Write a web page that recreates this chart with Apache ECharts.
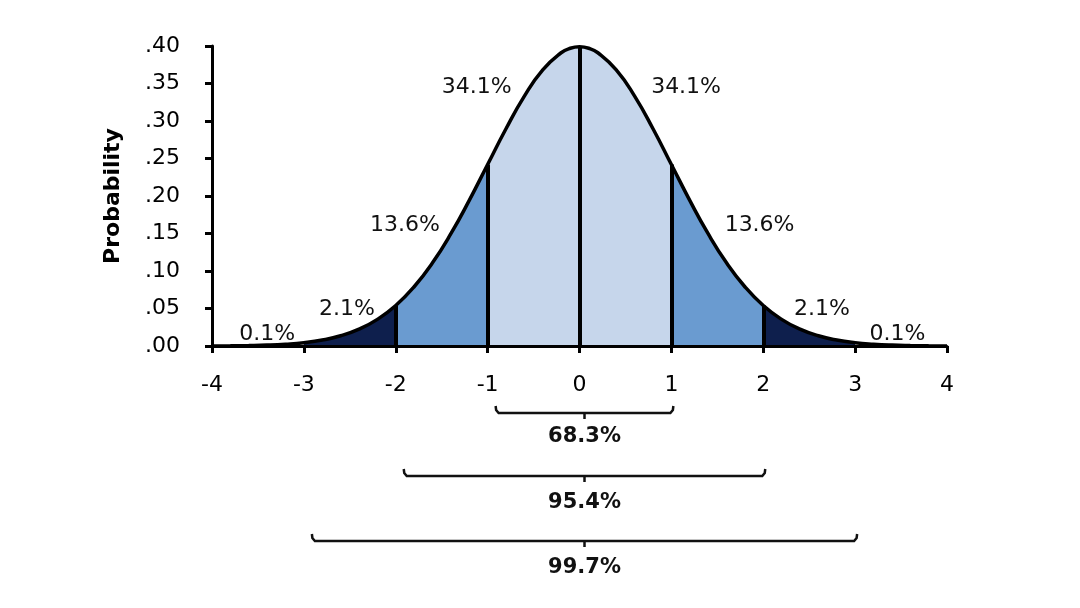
<!DOCTYPE html>
<html>
<head>
<meta charset="utf-8">
<script src="https://cdn.jsdelivr.net/npm/echarts@6/dist/echarts.min.js"></script>
<style>
    html, body { margin: 0; background: #fff; }
    #chart { width: 1080px; height: 608px; }
</style>
</head>
<body>
<div id="chart"></div>
<script>
    // curve
    var xValues = [-4, -3.8, -3.6, -3.4, -3.2, -3, -2.8, -2.6, -2.4, -2.2, -2, -1.8, -1.6, -1.4, -1.2, -1, -0.8, -0.6, -0.4, -0.2, -0.1, 0,
        0.1, 0.2, 0.4, 0.6, 0.8, 1, 1.2, 1.4, 1.6, 1.8, 2, 2.2, 2.4, 2.6, 2.8, 3, 3.2, 3.4, 3.6, 3.8, 4];
    var density = [0.0001, 0.0003, 0.0006, 0.0012, 0.0024, 0.0044, 0.0079, 0.0136, 0.0224, 0.0355, 0.054, 0.079, 0.1109, 0.1497, 0.1942, 0.242, 0.2897, 0.3332, 0.3683, 0.391, 0.397, 0.3989,
        0.397, 0.391, 0.3683, 0.3332, 0.2897, 0.242, 0.1942, 0.1497, 0.1109, 0.079, 0.054, 0.0355, 0.0224, 0.0136, 0.0079, 0.0044, 0.0024, 0.0012, 0.0006, 0.0003, 0.0001];
    var dividers = [-2, -1, 0, 1, 2];
    var areaLabels = ['0.1%', '2.1%', '13.6%', '34.1%', '34.1%', '13.6%', '2.1%', '0.1%'];
    var bracketFrom = [-1, -2, -3];
    var bracketTo = [1, 2, 3];
    var bracketLabels = ['68.3%', '95.4%', '99.7%'];

    var FONT = '"DejaVu Sans", Verdana, sans-serif';

    function pointsBetween(a, b) {
        var out = [];
        for (var i = 0; i < xValues.length; i++) {
            if (xValues[i] >= a && xValues[i] <= b) out.push([xValues[i], density[i]]);
        }
        return out;
    }
    function densityAt(x) {
        return density[xValues.indexOf(x)];
    }

    var curve = xValues.map(function (x, i) { return [x, density[i]]; });

    // shaded bands
    var bands = [
        { range: [-3, -2], color: '#0e1f4d' },
        { range: [-2, -1], color: '#6a9bd0' },
        { range: [-1, 1], color: '#c6d6eb' },
        { range: [1, 2], color: '#6a9bd0' },
        { range: [2, 3], color: '#0e1f4d' }
    ];
    var bandSeries = bands.map(function (b) {
        return {
            type: 'line',
            data: pointsBetween(b.range[0], b.range[1]),
            smooth: true,
            symbol: 'none',
            lineStyle: { width: 0 },
            areaStyle: { color: b.color, opacity: 1 },
            z: 1,
            silent: true
        };
    });

    // where the percentage texts sit
    var labelSpots = [[-3.4, 0.016], [-2.53, 0.049], [-1.9, 0.161], [-1.12, 0.345], [1.16, 0.345], [1.96, 0.161], [2.64, 0.049], [3.46, 0.016]];

    var axisStyle = { color: '#000', width: 3 };

    var chart = echarts.init(document.getElementById('chart'));
    chart.setOption({
        animation: false,
        backgroundColor: '#fff',
        grid: { left: 212, right: 133, top: 46, bottom: 262, containLabel: false },
        xAxis: {
            type: 'value',
            min: -4, max: 4, interval: 1,
            z: 10,
            axisLine: { onZero: false, lineStyle: axisStyle },
            axisTick: { show: true, length: 7, lineStyle: axisStyle },
            axisLabel: { color: '#000', fontSize: 22, fontFamily: FONT, margin: 28 },
            splitLine: { show: false }
        },
        yAxis: {
            type: 'value',
            min: 0, max: 0.4, interval: 0.05,
            z: 10,
            name: 'Probability',
            nameLocation: 'middle',
            nameGap: 88,
            nameRotate: 90,
            nameTextStyle: { color: '#000', fontSize: 22, fontWeight: 'bold', fontFamily: FONT },
            axisLine: { show: true, onZero: false, lineStyle: axisStyle },
            axisTick: { show: true, length: 7, lineStyle: axisStyle },
            axisLabel: {
                color: '#000', fontSize: 22, fontFamily: FONT, margin: 32,
                formatter: function (v) { return v.toFixed(2).replace(/^0/, ''); }
            },
            splitLine: { show: false }
        },
        series: bandSeries.concat([
            {
                type: 'line',
                data: curve,
                smooth: true,
                symbol: 'none',
                lineStyle: { color: '#000', width: 3.5 },
                z: 5,
                markLine: {
                    silent: true,
                    symbol: 'none',
                    label: { show: false },
                    lineStyle: { color: '#000', width: 4, type: 'solid' },
                    data: dividers.map(function (x) {
                        return [{ coord: [x, 0] }, { coord: [x, densityAt(x)] }];
                    })
                }
            },
            {
                type: 'scatter',
                symbolSize: 1,
                z: 6,
                silent: true,
                itemStyle: { color: 'rgba(0,0,0,0)', opacity: 1 },
                data: areaLabels.map(function (t, i) { return { name: t, value: labelSpots[i] }; }),
                label: {
                    show: true,
                    position: 'inside',
                    formatter: '{b}',
                    color: '#111',
                    opacity: 1,
                    fontSize: 22,
                    fontFamily: FONT
                }
            }
        ])
    });

    // brackets below the axis
    var bracketY = [413, 476, 541];
    var bracketTextY = [437, 503, 568];
    var els = [];
    for (var i = 0; i < bracketFrom.length; i++) {
        var x1 = chart.convertToPixel({ xAxisIndex: 0 }, bracketFrom[i]) + 8;
        var x2 = chart.convertToPixel({ xAxisIndex: 0 }, bracketTo[i]) + 2;
        var y = bracketY[i];
        var cx = (x1 + x2) / 2;
        els.push({
            type: 'polyline',
            shape: { points: [[x1, y - 7], [x1 + 0.5, y - 3], [x1 + 3, y], [x2 - 3, y], [x2 - 0.5, y - 3], [x2, y - 7]] },
            style: { stroke: '#111', lineWidth: 2.5, fill: null }
        });
        els.push({
            type: 'line',
            shape: { x1: cx, y1: y, x2: cx, y2: y + 6 },
            style: { stroke: '#111', lineWidth: 2.5 }
        });
        els.push({
            type: 'text',
            style: {
                text: bracketLabels[i], x: cx, y: bracketTextY[i],
                align: 'center', verticalAlign: 'middle',
                fill: '#111', font: 'bold 21px ' + FONT
            }
        });
    }
    chart.setOption({ graphic: { elements: els } });
</script>
</body>
</html>
